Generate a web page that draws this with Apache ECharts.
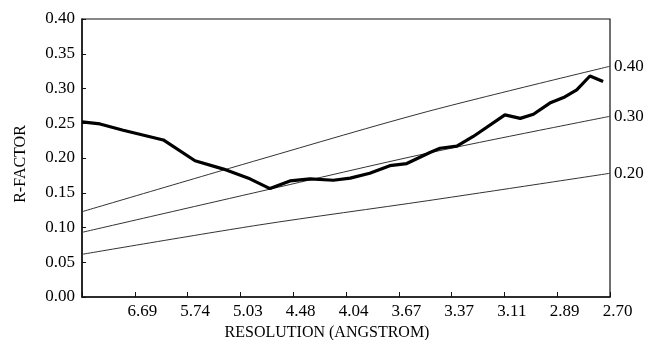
<!DOCTYPE html>
<html>
<head>
<meta charset="utf-8">
<script src="https://cdn.jsdelivr.net/npm/echarts@6/dist/echarts.min.js"></script>
<style>
html,body{margin:0;padding:0;background:#fff;}
#chart{width:645px;height:340px;}
</style>
</head>
<body>
<div id="chart"></div>
<script>
// x positions are in axis-bin units (0 = left edge, 1..10 = labelled ticks)
var xTickLabels = ['', '6.69', '5.74', '5.03', '4.48', '4.04', '3.67', '3.37', '3.11', '2.89', '2.70'];

var rFactorX = [0, 0.34, 0.78, 1.54, 2.14, 2.68, 3.18, 3.56, 3.94, 4.32, 4.76, 5.08, 5.45, 5.83, 6.15, 6.59, 6.78, 7.10, 7.41, 8.01, 8.30, 8.55, 8.86, 9.12, 9.37, 9.62, 9.87];
var rFactorY = [0.252, 0.249, 0.240, 0.226, 0.196, 0.184, 0.170, 0.156, 0.167, 0.170, 0.168, 0.171, 0.178, 0.189, 0.192, 0.208, 0.214, 0.217, 0.231, 0.262, 0.257, 0.263, 0.279, 0.287, 0.298, 0.318, 0.310];

var curveX = [0, 3.35, 6.55, 10];
var curve040 = [0.1227, 0.1975, 0.267, 0.332];
var curve030 = [0.093, 0.1515, 0.207, 0.260];
var curve020 = [0.0614, 0.1036, 0.1386, 0.178];
var curveLabels = ['0.40', '0.30', '0.20'];

function pairs(xs, ys) { return xs.map(function (x, i) { return [x, ys[i]]; }); }

var font = 'Liberation Serif';
var chart = echarts.init(document.getElementById('chart'));

function thinCurve(ys, label) {
  return {
    type: 'line',
    data: pairs(curveX, ys),
    symbol: 'none',
    smooth: 0.3,
    lineStyle: { color: '#333', width: 1 },
    endLabel: {
      show: true,
      formatter: label,
      distance: 4,
      fontFamily: font,
      fontSize: 17,
      color: '#000'
    },
    silent: true
  };
}

chart.setOption({
  animation: false,
  backgroundColor: '#fff',
  grid: { left: 82, right: 35, top: 19, bottom: 43, containLabel: false, outerBoundsMode: 'none', show: true, borderColor: '#111', borderWidth: 1.2 },
  xAxis: {
    type: 'value',
    min: 0, max: 10, interval: 1,
    name: 'RESOLUTION (ANGSTROM)',
    nameLocation: 'middle',
    nameGap: 28,
    nameTextStyle: { fontFamily: font, fontSize: 16, color: '#000', padding: [0, 38, 0, 0] },
    axisLine: { lineStyle: { color: '#111', width: 1.5 } },
    axisTick: { inside: true, length: 5, lineStyle: { color: '#111' } },
    splitLine: { show: false },
    axisLabel: {
      fontFamily: font, fontSize: 17, color: '#000', margin: 6,
      padding: [0, 0, 0, 15],
      formatter: function (v) { return xTickLabels[Math.round(v)] || ''; }
    }
  },
  yAxis: {
    type: 'value',
    min: 0, max: 0.4, interval: 0.05,
    name: 'R-FACTOR',
    nameLocation: 'middle',
    nameGap: 53,
    nameRotate: 90,
    nameTextStyle: { fontFamily: font, fontSize: 16, color: '#000', padding: [0, 12, 0, 0] },
    axisLine: { show: true, lineStyle: { color: '#111', width: 1.5 } },
    axisTick: { show: true, inside: true, length: 4, lineStyle: { color: '#111' } },
    splitLine: { show: false },
    axisLabel: {
      fontFamily: font, fontSize: 17, color: '#000', margin: 7,
      formatter: function (v) { return v.toFixed(2); }
    }
  },
  series: [
    thinCurve(curve040, curveLabels[0]),
    thinCurve(curve030, curveLabels[1]),
    thinCurve(curve020, curveLabels[2]),
    {
      type: 'line',
      data: pairs(rFactorX, rFactorY),
      symbol: 'none',
      lineStyle: { color: '#000', width: 3.2 },
      silent: true
    }
  ]
});
</script>
</body>
</html>
